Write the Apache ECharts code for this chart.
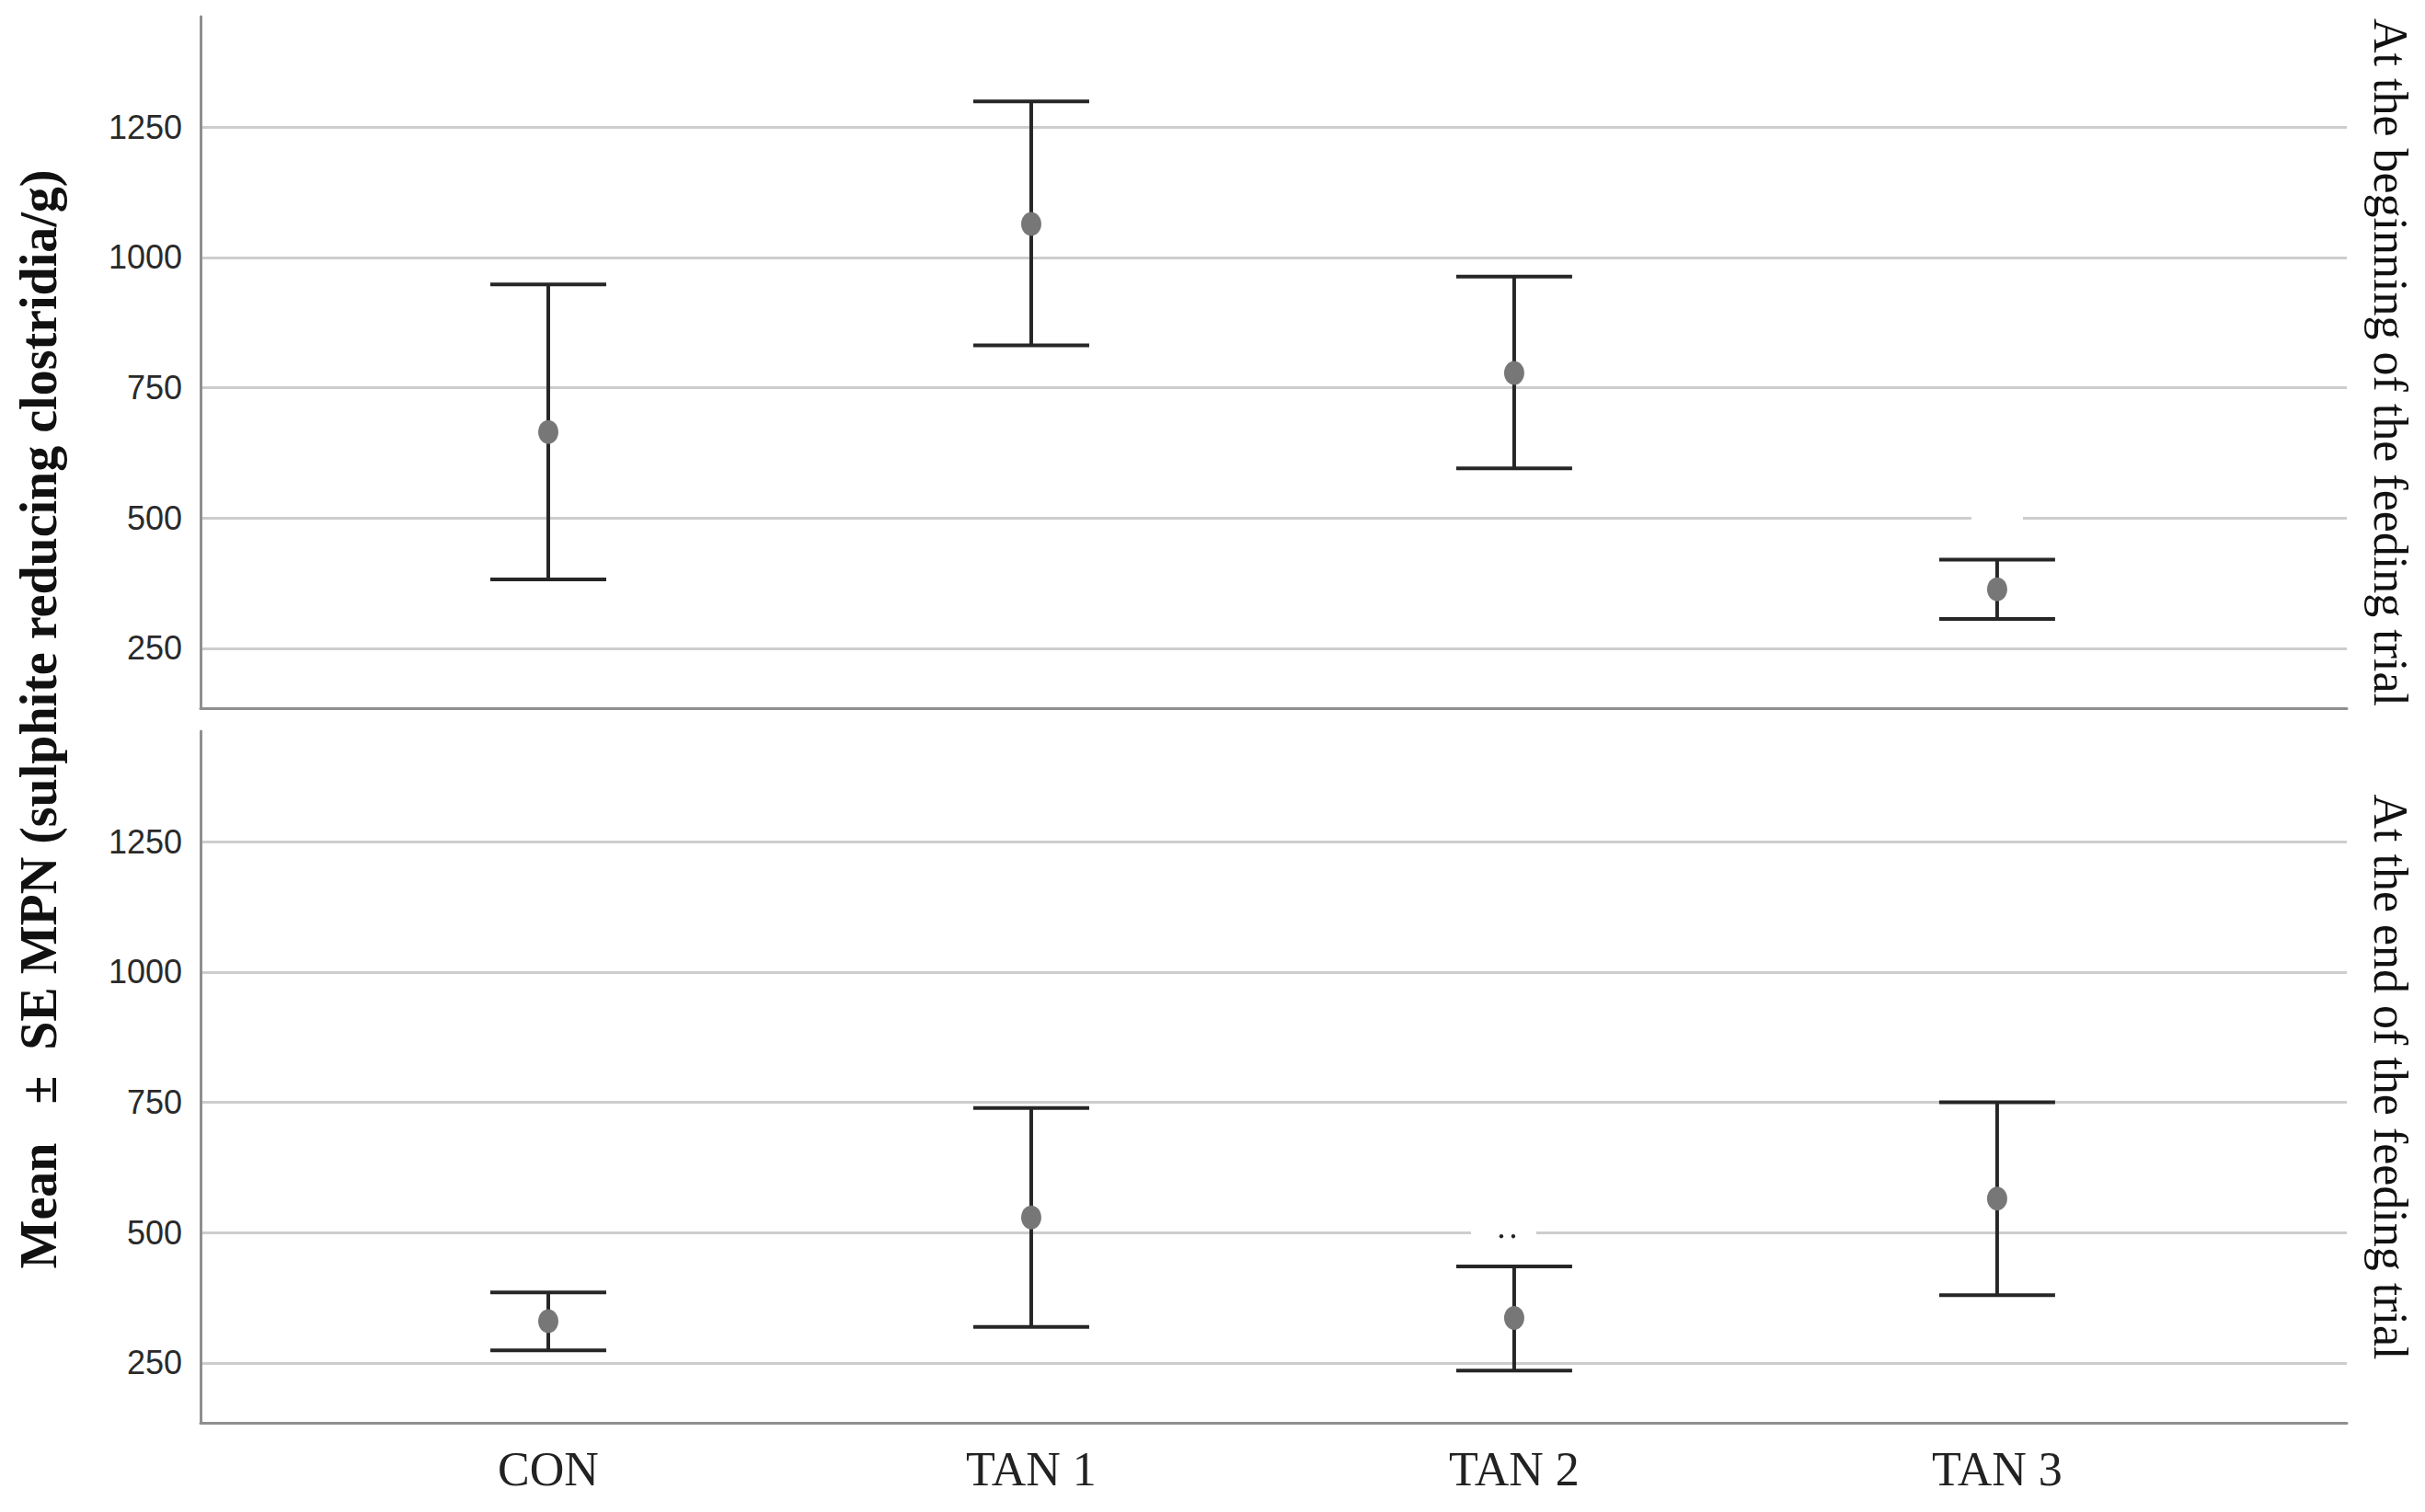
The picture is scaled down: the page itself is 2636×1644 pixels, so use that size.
<!DOCTYPE html>
<html><head><meta charset="utf-8">
<script src="https://cdn.jsdelivr.net/npm/echarts@6/dist/echarts.min.js"></script>
<style>html,body{margin:0;padding:0;background:#fff}#c{width:2636px;height:1644px}</style>
</head><body><div id="c"></div>
<script>
// ---- data ----
const categories = ['CON', 'TAN 1', 'TAN 2', 'TAN 3'];
const beginMean = [665, 1064, 778, 363];
const beginLow  = [382, 831, 595, 306];
const beginHigh = [948, 1299, 963, 420];
const endMean = [330, 529, 336, 565];
const endLow  = [274, 319, 235, 380];
const endHigh = [385, 739, 435, 750];
const yTicks = [250, 500, 750, 1000, 1250];
const xTicks = [0, 1, 2, 3];
const panelLabels = ['At the beginning of the feeding trial', 'At the end of the feeding trial'];
const yTitle = 'Mean   \u00B1  SE MPN (sulphite reducing clostridia/g)';
const topGaps = [[3, 500]];
const bottomGaps = [[2, 500]];

// ---- chart ----
const chart = echarts.init(document.getElementById('c'), null, {renderer: 'svg'});

const barData = (lo, hi) => lo.map((l, i) => [i, l, hi[i]]);
const pointData = m => m.map((v, i) => [i, v]);

function errItem(params, api) {
  const x = api.value(0);
  const lo = api.coord([x, api.value(1)]);
  const hi = api.coord([x, api.value(2)]);
  const hw = 63;
  const st = {stroke: '#262626', lineWidth: 4, fill: null};
  return {type: 'group', children: [
    {type: 'line', shape: {x1: lo[0], y1: lo[1], x2: hi[0], y2: hi[1]}, style: st},
    {type: 'line', shape: {x1: lo[0] - hw, y1: lo[1], x2: lo[0] + hw, y2: lo[1]}, style: st},
    {type: 'line', shape: {x1: hi[0] - hw, y1: hi[1], x2: hi[0] + hw, y2: hi[1]}, style: st}
  ]};
}
function gapTop(params, api) {
  const p = api.coord([api.value(0), api.value(1)]);
  return {type: 'rect', shape: {x: p[0] - 28, y: p[1] - 4, width: 56, height: 8}, style: {fill: '#ffffff'}};
}
function gapBottom(params, api) {
  const p = api.coord([api.value(0), api.value(1)]);
  return {type: 'group', children: [
    {type: 'rect', shape: {x: p[0] - 47, y: p[1] - 4, width: 71, height: 7}, style: {fill: '#ffffff'}},
    {type: 'circle', shape: {cx: p[0] - 14, cy: p[1] + 4, r: 2.2}, style: {fill: '#222'}},
    {type: 'circle', shape: {cx: p[0] - 1, cy: p[1] + 4, r: 2.2}, style: {fill: '#222'}}
  ]};
}

const axisLineStyle = {color: '#8f8f8f', width: 3};
function xAx(idx, showLabel) {
  return {
    type: 'value', gridIndex: idx, min: -0.72, max: 3.724,
    axisLine: {show: true, onZero: false, lineStyle: axisLineStyle},
    axisTick: {show: false},
    splitLine: {show: false},
    axisLabel: {
      show: showLabel, customValues: xTicks, margin: 24,
      formatter: v => categories[Math.round(v)] || '',
      fontFamily: 'Liberation Serif', fontSize: 52, color: '#222'
    }
  };
}
function yAx(idx) {
  return {
    type: 'value', gridIndex: idx, min: 135, max: 1462,
    axisLine: {show: true, onZero: false, lineStyle: axisLineStyle},
    axisTick: {show: false, customValues: yTicks},
    axisLabel: {customValues: yTicks, margin: 20, formatter: v => String(Math.round(v)),
                fontFamily: 'Liberation Sans', fontSize: 36, color: '#2a2a2a'},
    splitLine: {show: true, lineStyle: {color: '#cdcdcd', width: 3}}
  };
}

const option = {
  backgroundColor: '#ffffff',
  animation: false,
  grid: [
    {left: 218, right: 85, top: 18, height: 752, outerBoundsMode: 'none'},
    {left: 218, right: 85, top: 795, height: 752, outerBoundsMode: 'none'}
  ],
  xAxis: [xAx(0, false), xAx(1, true)],
  yAxis: [yAx(0), yAx(1)],
  graphic: [
    {type: 'text', x: 42, y: 782, rotation: Math.PI / 2,
     style: {text: yTitle, font: 'bold 56px "Liberation Serif"', fill: '#111', align: 'center', verticalAlign: 'middle', textAlign: 'center', textVerticalAlign: 'middle'}},
    {type: 'text', x: 2598, y: 394, rotation: -Math.PI / 2,
     style: {text: panelLabels[0], font: '52px "Liberation Serif"', fill: '#111', align: 'center', verticalAlign: 'middle', textAlign: 'center', textVerticalAlign: 'middle'}},
    {type: 'text', x: 2598, y: 1171, rotation: -Math.PI / 2,
     style: {text: panelLabels[1], font: '52px "Liberation Serif"', fill: '#111', align: 'center', verticalAlign: 'middle', textAlign: 'center', textVerticalAlign: 'middle'}}
  ],
  series: [
    {type: 'custom', xAxisIndex: 0, yAxisIndex: 0, z: 1, silent: true, renderItem: gapTop, data: topGaps},
    {type: 'custom', xAxisIndex: 1, yAxisIndex: 1, z: 1, silent: true, renderItem: gapBottom, data: bottomGaps},
    {type: 'custom', name: 'begin SE', xAxisIndex: 0, yAxisIndex: 0, z: 3, renderItem: errItem, data: barData(beginLow, beginHigh)},
    {type: 'custom', name: 'end SE', xAxisIndex: 1, yAxisIndex: 1, z: 3, renderItem: errItem, data: barData(endLow, endHigh)},
    {type: 'scatter', name: 'begin mean', xAxisIndex: 0, yAxisIndex: 0, z: 5, symbol: 'circle', symbolSize: [22, 26],
     itemStyle: {color: '#777777', opacity: 1}, data: pointData(beginMean)},
    {type: 'scatter', name: 'end mean', xAxisIndex: 1, yAxisIndex: 1, z: 5, symbol: 'circle', symbolSize: [22, 26],
     itemStyle: {color: '#777777', opacity: 1}, data: pointData(endMean)}
  ]
};
chart.setOption(option);
</script>
</body></html>
